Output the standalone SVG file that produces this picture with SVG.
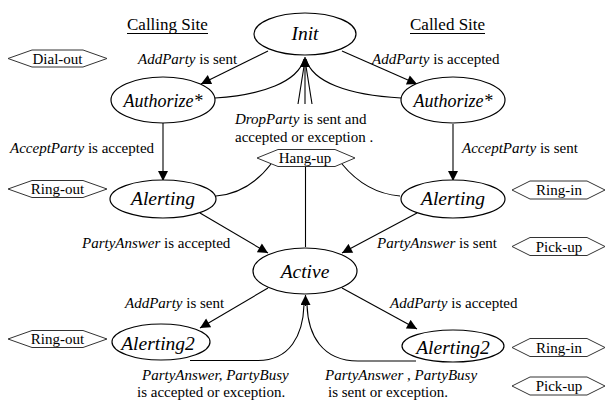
<svg xmlns="http://www.w3.org/2000/svg" width="607" height="406" viewBox="0 0 607 406">
  <style>
    text { font-family: "Liberation Serif", "Times New Roman", "DejaVu Serif", serif; fill: #000; }
    .lbl { font-size: 15px; }
    .it { font-style: italic; }
    .node ellipse { fill: #fff; stroke: #000; stroke-width: 1.2; }
    .node text { font-size: 19.5px; font-style: italic; text-anchor: middle; }
    .hex polygon { fill: #fff; stroke: #333; stroke-width: 1; }
    .hex text { font-size: 15px; text-anchor: middle; }
    .head { font-size: 17px; }
    .edges path, .edges line { fill: none; stroke: #000; stroke-width: 1.1; }
    .arr { marker-end: url(#ah); }
  </style>
  <defs>
    <marker id="ah" viewBox="0 0 10 10" refX="10" refY="5" markerWidth="11" markerHeight="10" markerUnits="userSpaceOnUse" orient="auto">
      <path d="M0,0 L10,5 L0,10 Z" fill="#000"/>
    </marker>
  </defs>
  <rect width="607" height="406" fill="#fff"/>

  <!-- column headings -->
  <g id="headings">
    <text class="head" x="127" y="30">Calling Site</text>
    <line x1="127" y1="33.5" x2="208" y2="33.5" stroke="#000" stroke-width="1"/>
    <text class="head" x="410" y="30">Called Site</text>
    <line x1="410" y1="33.5" x2="485" y2="33.5" stroke="#000" stroke-width="1"/>
  </g>

  <!-- connectors -->
  <g id="connectors" class="edges">
    <line class="arr" x1="268" y1="51" x2="201" y2="84"/>
    <line class="arr" x1="342" y1="51" x2="417" y2="84"/>
    <path d="M215,98 C262,95 298,82 304,59"/>
    <path d="M401,98 C348,95 312,82 306,59"/>
    <line x1="298" y1="104" x2="305" y2="60"/>
    <line x1="312" y1="104" x2="305" y2="60"/>
    <line class="arr" x1="305" y1="104" x2="305" y2="57"/>
    <line class="arr" x1="163" y1="123" x2="163" y2="181"/>
    <line class="arr" x1="453" y1="124" x2="453" y2="181"/>
    <line class="arr" x1="200" y1="213" x2="268" y2="253"/>
    <line class="arr" x1="417" y1="213" x2="342" y2="253"/>
    <path d="M216,196 C240,194 258,181 271,164"/>
    <path d="M400,196 C376,194 356,181 342,164"/>
    <line x1="305.5" y1="167" x2="305.5" y2="247"/>
    <line class="arr" x1="268" y1="288" x2="200" y2="328"/>
    <line class="arr" x1="342" y1="288" x2="417" y2="329"/>
    <path d="M190,360.5 L258,360.5 C290,360.5 303,335 304,305"/>
    <path d="M416,361 L358,361 C322,361 308,335 307,305"/>
    <line class="arr" x1="305.5" y1="306" x2="305.5" y2="295"/>
  </g>

  <!-- states -->
  <g id="init" class="node"><ellipse cx="305" cy="34" rx="51" ry="21"/><text x="305" y="40">Init</text></g>
  <g id="authorize-calling" class="node"><ellipse cx="163" cy="100" rx="52" ry="23"/><text x="163" y="107" style="font-size:18px">Authorize*</text></g>
  <g id="authorize-called" class="node"><ellipse cx="453" cy="100" rx="52" ry="23"/><text x="453" y="107" style="font-size:18px">Authorize*</text></g>
  <g id="alerting-calling" class="node"><ellipse cx="163" cy="199" rx="53" ry="19"/><text x="163" y="205">Alerting</text></g>
  <g id="alerting-called" class="node"><ellipse cx="453" cy="199" rx="52" ry="19"/><text x="453" y="205">Alerting</text></g>
  <g id="active" class="node"><ellipse cx="305" cy="271" rx="52" ry="23"/><text x="305" y="278">Active</text></g>
  <g id="alerting2-calling" class="node"><ellipse cx="161" cy="342" rx="49" ry="18"/><text x="158" y="350">Alerting2</text></g>
  <g id="alerting2-called" class="node"><ellipse cx="453" cy="346" rx="51" ry="16"/><text x="453" y="354">Alerting2</text></g>

  <!-- user actions -->
  <g id="dial-out" class="hex"><polygon points="8,58.5 32,50 83,50 107,58.5 83,67 32,67"/><text x="57.5" y="63.5">Dial-out</text></g>
  <g id="ring-out-1" class="hex"><polygon points="8,189 32,180.5 83,180.5 107,189 83,197.5 32,197.5"/><text x="57.5" y="194">Ring-out</text></g>
  <g id="ring-out-2" class="hex"><polygon points="8,339 32,330.5 83,330.5 107,339 83,347.5 32,347.5"/><text x="57.5" y="344">Ring-out</text></g>
  <g id="hang-up" class="hex"><polygon points="257,158 278,149.5 335,149.5 355,158 335,166.5 278,166.5"/><text x="305" y="163">Hang-up</text></g>
  <g id="ring-in-1" class="hex"><polygon points="512,190 530,181 587,181 605,190 587,199 530,199"/><text x="559" y="195">Ring-in</text></g>
  <g id="pick-up-1" class="hex"><polygon points="512,246.5 530,237.5 587,237.5 605,246.5 587,255.5 530,255.5"/><text x="559" y="251.5">Pick-up</text></g>
  <g id="ring-in-2" class="hex"><polygon points="512,347.5 530,338.5 587,338.5 605,347.5 587,356.5 530,356.5"/><text x="559" y="352.5">Ring-in</text></g>
  <g id="pick-up-2" class="hex"><polygon points="512,386 530,377 587,377 605,386 587,395 530,395"/><text x="559" y="391">Pick-up</text></g>

  <!-- transition labels -->
  <g id="labels" class="lbl">
    <text x="138" y="64"><tspan class="it">AddParty</tspan> is sent</text>
    <text x="372" y="64"><tspan class="it">AddParty</tspan> is accepted</text>
    <text x="235" y="124"><tspan class="it">DropParty</tspan>  is sent and</text>
    <text x="235" y="142">accepted or exception .</text>
    <text x="10" y="153"><tspan class="it">AcceptParty</tspan> is accepted</text>
    <text x="462" y="153"><tspan class="it">AcceptParty</tspan> is sent</text>
    <text x="82" y="248"><tspan class="it">PartyAnswer</tspan> is accepted</text>
    <text x="377" y="248"><tspan class="it">PartyAnswer</tspan> is sent</text>
    <text x="125" y="308"><tspan class="it">AddParty</tspan> is sent</text>
    <text x="390" y="308"><tspan class="it">AddParty</tspan> is accepted</text>
    <text x="142" y="380" class="it">PartyAnswer, PartyBusy</text>
    <text x="137" y="397">is accepted or exception.</text>
    <text x="325" y="380" class="it">PartyAnswer , PartyBusy</text>
    <text x="328" y="397">is sent or exception.</text>
  </g>
</svg>
